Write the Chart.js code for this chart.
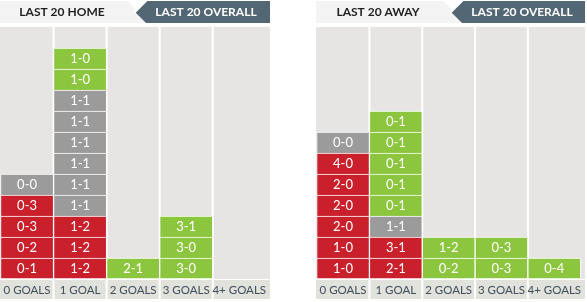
<!DOCTYPE html>
<html><head><meta charset="utf-8">
<script src="https://cdn.jsdelivr.net/npm/chart.js@4/dist/chart.umd.min.js"></script>
<style>
html,body{margin:0;padding:0;background:#fff;}
#wrap{position:relative;width:587px;height:302px;}
.panel{position:absolute;top:0;}
canvas{display:block;}
</style></head><body>
<div id="wrap">
<div class="panel" style="left:0"><canvas id="home" width="270" height="300"></canvas></div>
<div class="panel" style="left:316px"><canvas id="away" width="269" height="300"></canvas></div>
</div>
<script>
// Categories (goals scored by the team)
const categories = ['0 GOALS', '1 GOAL', '2 GOALS', '3 GOALS', '4+ GOALS'];

// Scores per category, listed bottom to top (home: team goals first)
const homeScores = [
  ['0-1', '0-2', '0-3', '0-3', '0-0'],
  ['1-2', '1-2', '1-2', '1-1', '1-1', '1-1', '1-1', '1-1', '1-1', '1-0', '1-0'],
  ['2-1'],
  ['3-0', '3-0', '3-1'],
  []
];

// Away scores (team goals second)
const awayScores = [
  ['1-0', '1-0', '2-0', '2-0', '2-0', '4-0', '0-0'],
  ['2-1', '3-1', '1-1', '0-1', '0-1', '0-1', '0-1', '0-1'],
  ['0-2', '1-2'],
  ['0-3', '0-3'],
  ['0-4']
];

const homeTabs = ['LAST 20 HOME', 'LAST 20 OVERALL'];
const awayTabs = ['LAST 20 AWAY', 'LAST 20 OVERALL'];
const yMax = 12;

const COLORS = { W: '#8cc63f', D: '#9b9b9b', L: '#c9202b' };

function result(score, home) {
  const p = score.split('-').map(Number);
  const us = home ? p[0] : p[1];
  const them = home ? p[1] : p[0];
  return us > them ? 'W' : (us < them ? 'L' : 'D');
}

function buildDatasets(scores, home) {
  const rows = Math.max(...scores.map(c => c.length));
  const ds = [];
  for (let k = 0; k < rows; k++) {
    ds.push({
      data: scores.map(c => k < c.length ? 1 : null),
      scoreLabels: scores.map(c => k < c.length ? c[k] : ''),
      backgroundColor: scores.map(c => k < c.length ? COLORS[result(c[k], home)] : 'rgba(0,0,0,0)'),
      borderColor: '#ffffff',
      borderWidth: k === 0 ? { top: 1, bottom: 1, left: 1, right: 1 } : { top: 1, bottom: 0, left: 1, right: 1 },
      borderSkipped: false,
      barPercentage: 1,
      categoryPercentage: 1
    });
  }
  return ds;
}

const backgroundPlugin = {
  id: 'panelBg',
  beforeDraw(chart, args, opts) {
    const ctx = chart.ctx;
    const x = chart.scales.x;
    const area = chart.chartArea;
    const W = chart.width;
    const half = (x.getPixelForValue(1) - x.getPixelForValue(0)) / 2;
    ctx.save();
    for (let i = 0; i < categories.length; i++) {
      const cx = x.getPixelForValue(i);
      const l = i === 0 ? 0 : cx - half + 1;
      const r = i === categories.length - 1 ? W : cx + half - 1;
      ctx.fillStyle = '#e6e5e3';
      ctx.fillRect(l, area.top, r - l, area.bottom - area.top);
      ctx.fillStyle = '#e2e2dc';
      ctx.fillRect(l, area.bottom + 1, r - l, 19);
    }
    // tabs
    const tabs = opts.tabs;
    ctx.fillStyle = '#f4f4f4';
    ctx.beginPath();
    ctx.moveTo(0, 1); ctx.lineTo(127, 1); ctx.lineTo(149, 23); ctx.lineTo(0, 23); ctx.closePath();
    ctx.fill();
    ctx.beginPath();
    ctx.moveTo(135, 12); ctx.lineTo(146, 1); ctx.lineTo(W, 1); ctx.lineTo(W, 23); ctx.lineTo(146, 23); ctx.closePath();
    ctx.fillStyle = '#536673';
    ctx.fill();
    ctx.strokeStyle = '#ffffff';
    ctx.lineWidth = 2;
    ctx.beginPath();
    ctx.moveTo(134, 13); ctx.lineTo(147, 0);
    ctx.stroke();
    ctx.font = 'bold 12px Lato';
    ctx.textAlign = 'center';
    ctx.textBaseline = 'middle';
    ctx.fillStyle = '#1f1f1f';
    ctx.fillText(tabs[0], 62, 12.5);
    ctx.fillStyle = '#ffffff';
    ctx.fillText(tabs[1], 206, 12.5);
    ctx.restore();
  }
};

const labelPlugin = {
  id: 'scoreLabels',
  afterDatasetsDraw(chart) {
    const ctx = chart.ctx;
    ctx.save();
    ctx.font = '13px Lato';
    ctx.fillStyle = '#ffffff';
    ctx.textAlign = 'center';
    ctx.textBaseline = 'middle';
    chart.data.datasets.forEach((ds, di) => {
      const meta = chart.getDatasetMeta(di);
      meta.data.forEach((el, i) => {
        if (ds.data[i] == null) return;
        const yc = (el.y + el.base) / 2 + 0.5;
        ctx.fillText(ds.scoreLabels[i], el.x, yc);
      });
    });
    ctx.restore();
  }
};

function makeChart(id, scores, home, tabs) {
  return new Chart(document.getElementById(id), {
    type: 'bar',
    data: { labels: categories, datasets: buildDatasets(scores, home) },
    options: {
      responsive: false,
      animation: false,
      devicePixelRatio: 1,
      layout: { padding: { top: 27, left: 0, right: 0, bottom: 0 } },
      plugins: { legend: { display: false }, tooltip: { enabled: false }, panelBg: { tabs: tabs } },
      scales: {
        x: {
          stacked: true,
          grid: { display: false, drawTicks: false },
          border: { display: false },
          ticks: { font: { family: 'Lato', size: 11.5 }, color: '#3f4d5a', padding: 4, maxRotation: 0, autoSkip: false },
          afterFit(s) { s.height = 21; }
        },
        y: { stacked: true, display: false, min: 0, max: yMax }
      }
    },
    plugins: [backgroundPlugin, labelPlugin]
  });
}

makeChart('home', homeScores, true, homeTabs);
makeChart('away', awayScores, false, awayTabs);
</script>
</body></html>
